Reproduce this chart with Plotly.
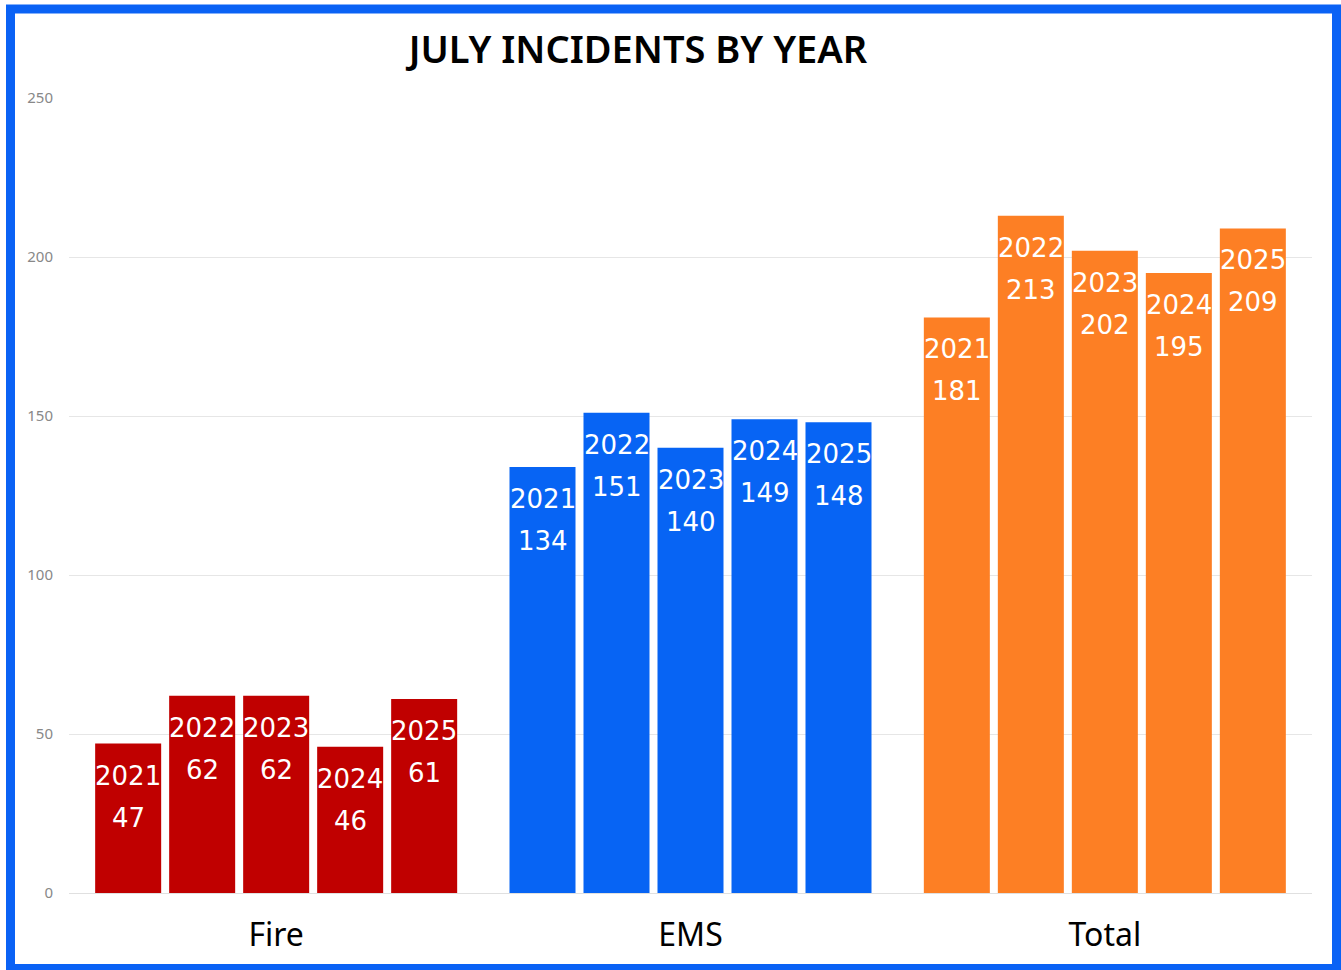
import plotly.graph_objects as go

# July incident counts per category and year
categories = ["Fire", "EMS", "Total"]
years = ["2021", "2022", "2023", "2024", "2025"]
fire = [47, 62, 62, 46, 61]
ems = [134, 151, 140, 149, 148]
total = [181, 213, 202, 195, 209]

series = {"Fire": fire, "EMS": ems, "Total": total}
colors = {"Fire": "#C00000", "EMS": "#0764F4", "Total": "#FD7F24"}

W, H = 1341, 970
ML, MR, MT, MB = 69, 29, 98, 77
BARGAP = 0.107
BARGROUPGAP = 0.108
LABEL_FONT = "DejaVu Sans"

fig = go.Figure()

# one trace per year so bars are grouped by category; colour by category
for k, yr in enumerate(years):
    vals = [series[c][k] for c in categories]
    fig.add_trace(go.Bar(
        x=categories,
        y=vals,
        name=yr,
        marker=dict(color=[colors[c] for c in categories], line=dict(width=0)),
        showlegend=False,
        hoverinfo="x+y+name",
    ))

# in-bar labels: year above value, positioned on each bar of the group
n = len(years)
slot = (1 - BARGAP) / n
annotations = []
for ci, c in enumerate(categories):
    for k, yr in enumerate(years):
        xc = ci + (k - (n - 1) / 2) * slot
        v = series[c][k]
        for text, shift in ((yr, -16), (str(v), -58)):
            annotations.append(dict(
                x=xc, y=v, xref="x", yref="y", text=text, showarrow=False,
                yanchor="top", xanchor="center", yshift=shift, borderpad=0,
                font=dict(family=LABEL_FONT, size=26, color="white"),
            ))

# rounded blue frame around the whole chart
pw, ph = W - ML - MR, H - MT - MB
def px_x(p):
    return (p - ML) / pw
def px_y(p):
    return (H - MB - p) / ph

fig.add_shape(
    type="rect", xref="paper", yref="paper",
    x0=px_x(10.5), x1=px_x(1336.5), y0=px_y(968.5), y1=px_y(9),
    line=dict(color="#0A62F5", width=9), fillcolor="rgba(0,0,0,0)", layer="above",
)

fig.update_layout(
    width=W, height=H,
    margin=dict(l=ML, r=MR, t=MT, b=MB, pad=0),
    paper_bgcolor="white", plot_bgcolor="white",
    barmode="group", bargap=BARGAP, bargroupgap=BARGROUPGAP,
    title=dict(
        text="JULY INCIDENTS BY YEAR",
        x=638 / W, xref="container", xanchor="center",
        y=1 - 50 / H, yref="container", yanchor="middle",
        font=dict(family="Noto Sans", size=38, color="black", weight=600),
    ),
    annotations=annotations,
    xaxis=dict(
        type="category", showgrid=False, zeroline=False, showline=False,
        tickfont=dict(family="Noto Sans", size=32, color="black"),
        ticks="", ticklabelstandoff=20,
    ),
    yaxis=dict(
        range=[0, 250], tickvals=[0, 50, 100, 150, 200, 250],
        showgrid=True, gridcolor="#E6E6E6", gridwidth=1,
        zeroline=True, zerolinecolor="#E0E0E0", zerolinewidth=1,
        showline=False, ticks="",
        tickfont=dict(family="Noto Sans", size=15, color="#888888"),
        ticklabelstandoff=15,
    ),
)

fig.write_html("out.html")
